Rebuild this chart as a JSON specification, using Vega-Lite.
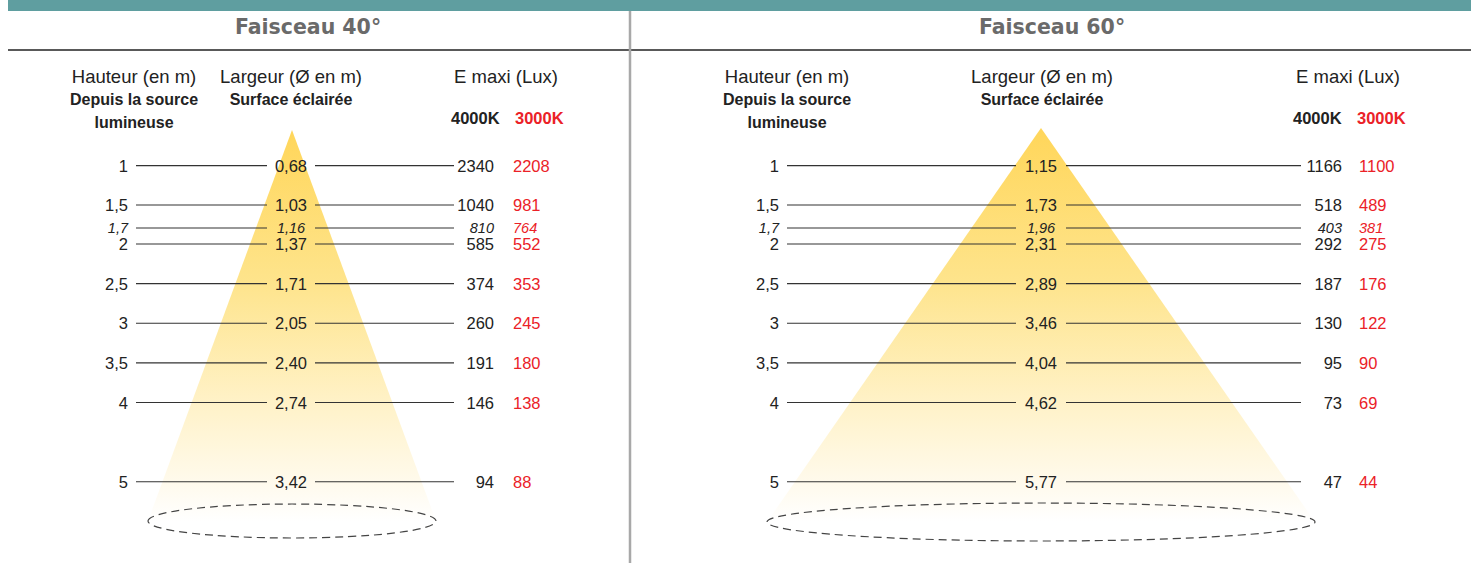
{
  "$schema": "https://vega.github.io/schema/vega-lite/v6.json",
  "width": 1471,
  "height": 563,
  "autosize": {"type": "fit", "contains": "padding"},
  "padding": 0,
  "background": "#ffffff",
  "config": {
    "view": {"stroke": null},
    "axis": {"disable": true},
    "locale": {"number": {"decimal": ",", "thousands": "\u00a0", "grouping": [3], "currency": ["", "\u00a0€"]}},
    "text": {"font": "Liberation Sans", "fontSize": 16.5, "color": "#222222"}
  },
  "datasets": {
    "rows": [
      {"beam": 40, "h": 1, "largeur": 0.68, "lux4000": 2340, "lux3000": 2208},
      {"beam": 40, "h": 1.5, "largeur": 1.03, "lux4000": 1040, "lux3000": 981},
      {"beam": 40, "h": 1.7, "largeur": 1.16, "lux4000": 810, "lux3000": 764},
      {"beam": 40, "h": 2, "largeur": 1.37, "lux4000": 585, "lux3000": 552},
      {"beam": 40, "h": 2.5, "largeur": 1.71, "lux4000": 374, "lux3000": 353},
      {"beam": 40, "h": 3, "largeur": 2.05, "lux4000": 260, "lux3000": 245},
      {"beam": 40, "h": 3.5, "largeur": 2.40, "lux4000": 191, "lux3000": 180},
      {"beam": 40, "h": 4, "largeur": 2.74, "lux4000": 146, "lux3000": 138},
      {"beam": 40, "h": 5, "largeur": 3.42, "lux4000": 94, "lux3000": 88},
      {"beam": 60, "h": 1, "largeur": 1.15, "lux4000": 1166, "lux3000": 1100},
      {"beam": 60, "h": 1.5, "largeur": 1.73, "lux4000": 518, "lux3000": 489},
      {"beam": 60, "h": 1.7, "largeur": 1.96, "lux4000": 403, "lux3000": 381},
      {"beam": 60, "h": 2, "largeur": 2.31, "lux4000": 292, "lux3000": 275},
      {"beam": 60, "h": 2.5, "largeur": 2.89, "lux4000": 187, "lux3000": 176},
      {"beam": 60, "h": 3, "largeur": 3.46, "lux4000": 130, "lux3000": 122},
      {"beam": 60, "h": 3.5, "largeur": 4.04, "lux4000": 95, "lux3000": 90},
      {"beam": 60, "h": 4, "largeur": 4.62, "lux4000": 73, "lux3000": 69},
      {"beam": 60, "h": 5, "largeur": 5.77, "lux4000": 47, "lux3000": 44}
    ]
  },
  "data": {"name": "rows"},
  "layer": [
    {"data": {"values": [{}]}, "mark": {"type": "rect", "color": "#5F9EA0"},
     "encoding": {"x": {"datum": 8, "type": "quantitative", "axis": null, "scale": {"domain": [0, 1471], "range": [0, 1471], "nice": false, "zero": false}}, "x2": {"datum": 1471},
       "y": {"datum": -1.1, "type": "quantitative", "axis": null, "scale": {"domain": [-1.1, 1.5, 1.7, 2, 6.025], "range": [0, 205, 228, 244, 563], "nice": false, "zero": false}}, "y2": {"datum": -0.9605}}},
    {"data": {"values": [{}]}, "mark": {"type": "rule", "color": "#222222", "strokeWidth": 1.5},
     "encoding": {"x": {"datum": 8, "type": "quantitative"}, "x2": {"datum": 1471}, "y": {"datum": -0.4659, "type": "quantitative"}}},
    {"data": {"values": [{}]}, "mark": {"type": "rule", "color": "#a8a8a8", "strokeWidth": 2.5},
     "encoding": {"x": {"datum": 630, "type": "quantitative"}, "y": {"datum": -0.9605, "type": "quantitative"}, "y2": {"datum": 6.025}}},

    {"data": {"values": [{}]}, "mark": {"type": "point", "shape": "M0,-1L0.7366,1L-0.7366,1Z", "filled": true, "opacity": 1, "strokeWidth": 0, "size": 152881,
      "fill": {"gradient": "linear", "x1": 0, "y1": 0, "x2": 0, "y2": 1, "stops": [{"offset": 0, "color": "#FFD65A"}, {"offset": 0.39, "color": "#FEE48C"}, {"offset": 0.7, "color": "#FFF2C8"}, {"offset": 0.9, "color": "#FFFAEC"}, {"offset": 1, "color": "#FFFFFF"}]}},
     "encoding": {"x": {"datum": 292, "type": "quantitative"}, "y": {"datum": 3.0284, "type": "quantitative"}}},
    {"data": {"values": [{}]}, "mark": {"type": "point", "shape": "M0,-0.719L1,0.719L-1,0.719Z", "filled": true, "opacity": 1, "strokeWidth": 0, "size": 300304,
      "fill": {"gradient": "linear", "x1": 0, "y1": 0, "x2": 0, "y2": 1, "stops": [{"offset": 0, "color": "#FFD65A"}, {"offset": 0.39, "color": "#FEE48C"}, {"offset": 0.7, "color": "#FFF2C8"}, {"offset": 0.9, "color": "#FFFAEC"}, {"offset": 1, "color": "#FFFFFF"}]}},
     "encoding": {"x": {"datum": 1041, "type": "quantitative"}, "y": {"datum": 3.0221, "type": "quantitative"}}},
    {"data": {"values": [{}]}, "mark": {"type": "point", "shape": "M-1,0A1,0.118,0,1,1,1,0A1,0.118,0,1,1,-1,0Z", "filled": false, "opacity": 1, "stroke": "#444444", "strokeWidth": 1.2, "strokeDash": [8, 5], "size": 82944},
     "encoding": {"x": {"datum": 292, "type": "quantitative"}, "y": {"datum": 5.4952, "type": "quantitative"}}},
    {"data": {"values": [{}]}, "mark": {"type": "point", "shape": "M-1,0A1,0.0693,0,1,1,1,0A1,0.0693,0,1,1,-1,0Z", "filled": false, "opacity": 1, "stroke": "#444444", "strokeWidth": 1.2, "strokeDash": [8, 5], "size": 300304},
     "encoding": {"x": {"datum": 1041, "type": "quantitative"}, "y": {"datum": 5.5078, "type": "quantitative"}}},

    {"transform": [{"filter": "datum.beam == 40"}], "mark": {"type": "rule", "color": "#333333", "strokeWidth": 1.1},
     "encoding": {"x": {"datum": 136, "type": "quantitative"}, "x2": {"datum": 267}, "y": {"field": "h", "type": "quantitative"}}},
    {"transform": [{"filter": "datum.beam == 40"}], "mark": {"type": "rule", "color": "#333333", "strokeWidth": 1.1},
     "encoding": {"x": {"datum": 315, "type": "quantitative"}, "x2": {"datum": 454}, "y": {"field": "h", "type": "quantitative"}}},
    {"transform": [{"filter": "datum.beam == 60"}], "mark": {"type": "rule", "color": "#333333", "strokeWidth": 1.1},
     "encoding": {"x": {"datum": 787, "type": "quantitative"}, "x2": {"datum": 1016}, "y": {"field": "h", "type": "quantitative"}}},
    {"transform": [{"filter": "datum.beam == 60"}], "mark": {"type": "rule", "color": "#333333", "strokeWidth": 1.1},
     "encoding": {"x": {"datum": 1066, "type": "quantitative"}, "x2": {"datum": 1301}, "y": {"field": "h", "type": "quantitative"}}},

    {"transform": [{"filter": "datum.beam == 40 && datum.h != 1.7"}], "mark": {"type": "text", "align": "right", "baseline": "alphabetic", "dy": 6},
     "encoding": {"x": {"datum": 128, "type": "quantitative"}, "y": {"field": "h", "type": "quantitative"}, "text": {"field": "h", "format": ".1~f"}}},
    {"transform": [{"filter": "datum.beam == 40 && datum.h == 1.7"}], "mark": {"type": "text", "align": "right", "baseline": "alphabetic", "dy": 5, "fontStyle": "italic", "fontSize": 14.5},
     "encoding": {"x": {"datum": 128, "type": "quantitative"}, "y": {"field": "h", "type": "quantitative"}, "text": {"field": "h", "format": ".1~f"}}},
    {"transform": [{"filter": "datum.beam == 40 && datum.h != 1.7"}], "mark": {"type": "text", "align": "center", "baseline": "alphabetic", "dy": 6},
     "encoding": {"x": {"datum": 291, "type": "quantitative"}, "y": {"field": "h", "type": "quantitative"}, "text": {"field": "largeur", "format": ".2f"}}},
    {"transform": [{"filter": "datum.beam == 40 && datum.h == 1.7"}], "mark": {"type": "text", "align": "center", "baseline": "alphabetic", "dy": 5, "fontStyle": "italic", "fontSize": 14.5},
     "encoding": {"x": {"datum": 291, "type": "quantitative"}, "y": {"field": "h", "type": "quantitative"}, "text": {"field": "largeur", "format": ".2f"}}},
    {"transform": [{"filter": "datum.beam == 40 && datum.h != 1.7"}], "mark": {"type": "text", "align": "right", "baseline": "alphabetic", "dy": 6},
     "encoding": {"x": {"datum": 494, "type": "quantitative"}, "y": {"field": "h", "type": "quantitative"}, "text": {"field": "lux4000", "format": "d"}}},
    {"transform": [{"filter": "datum.beam == 40 && datum.h == 1.7"}], "mark": {"type": "text", "align": "right", "baseline": "alphabetic", "dy": 5, "fontStyle": "italic", "fontSize": 14.5},
     "encoding": {"x": {"datum": 494, "type": "quantitative"}, "y": {"field": "h", "type": "quantitative"}, "text": {"field": "lux4000", "format": "d"}}},
    {"transform": [{"filter": "datum.beam == 40 && datum.h != 1.7"}], "mark": {"type": "text", "align": "left", "baseline": "alphabetic", "dy": 6, "color": "#EB2127"},
     "encoding": {"x": {"datum": 513, "type": "quantitative"}, "y": {"field": "h", "type": "quantitative"}, "text": {"field": "lux3000", "format": "d"}}},
    {"transform": [{"filter": "datum.beam == 40 && datum.h == 1.7"}], "mark": {"type": "text", "align": "left", "baseline": "alphabetic", "dy": 5, "color": "#EB2127", "fontStyle": "italic", "fontSize": 14.5},
     "encoding": {"x": {"datum": 513, "type": "quantitative"}, "y": {"field": "h", "type": "quantitative"}, "text": {"field": "lux3000", "format": "d"}}},

    {"transform": [{"filter": "datum.beam == 60 && datum.h != 1.7"}], "mark": {"type": "text", "align": "right", "baseline": "alphabetic", "dy": 6},
     "encoding": {"x": {"datum": 779, "type": "quantitative"}, "y": {"field": "h", "type": "quantitative"}, "text": {"field": "h", "format": ".1~f"}}},
    {"transform": [{"filter": "datum.beam == 60 && datum.h == 1.7"}], "mark": {"type": "text", "align": "right", "baseline": "alphabetic", "dy": 5, "fontStyle": "italic", "fontSize": 14.5},
     "encoding": {"x": {"datum": 779, "type": "quantitative"}, "y": {"field": "h", "type": "quantitative"}, "text": {"field": "h", "format": ".1~f"}}},
    {"transform": [{"filter": "datum.beam == 60 && datum.h != 1.7"}], "mark": {"type": "text", "align": "center", "baseline": "alphabetic", "dy": 6},
     "encoding": {"x": {"datum": 1041, "type": "quantitative"}, "y": {"field": "h", "type": "quantitative"}, "text": {"field": "largeur", "format": ".2f"}}},
    {"transform": [{"filter": "datum.beam == 60 && datum.h == 1.7"}], "mark": {"type": "text", "align": "center", "baseline": "alphabetic", "dy": 5, "fontStyle": "italic", "fontSize": 14.5},
     "encoding": {"x": {"datum": 1041, "type": "quantitative"}, "y": {"field": "h", "type": "quantitative"}, "text": {"field": "largeur", "format": ".2f"}}},
    {"transform": [{"filter": "datum.beam == 60 && datum.h != 1.7"}], "mark": {"type": "text", "align": "right", "baseline": "alphabetic", "dy": 6},
     "encoding": {"x": {"datum": 1342, "type": "quantitative"}, "y": {"field": "h", "type": "quantitative"}, "text": {"field": "lux4000", "format": "d"}}},
    {"transform": [{"filter": "datum.beam == 60 && datum.h == 1.7"}], "mark": {"type": "text", "align": "right", "baseline": "alphabetic", "dy": 5, "fontStyle": "italic", "fontSize": 14.5},
     "encoding": {"x": {"datum": 1342, "type": "quantitative"}, "y": {"field": "h", "type": "quantitative"}, "text": {"field": "lux4000", "format": "d"}}},
    {"transform": [{"filter": "datum.beam == 60 && datum.h != 1.7"}], "mark": {"type": "text", "align": "left", "baseline": "alphabetic", "dy": 6, "color": "#EB2127"},
     "encoding": {"x": {"datum": 1359, "type": "quantitative"}, "y": {"field": "h", "type": "quantitative"}, "text": {"field": "lux3000", "format": "d"}}},
    {"transform": [{"filter": "datum.beam == 60 && datum.h == 1.7"}], "mark": {"type": "text", "align": "left", "baseline": "alphabetic", "dy": 5, "color": "#EB2127", "fontStyle": "italic", "fontSize": 14.5},
     "encoding": {"x": {"datum": 1359, "type": "quantitative"}, "y": {"field": "h", "type": "quantitative"}, "text": {"field": "lux3000", "format": "d"}}},

    {"data": {"values": [{}]}, "mark": {"type": "text", "text": "Faisceau 40°", "font": "DejaVu Sans", "fontWeight": "bold", "fontSize": 20.5, "color": "#6a6a6a", "align": "center", "baseline": "alphabetic"},
     "encoding": {"x": {"datum": 308, "type": "quantitative"}, "y": {"datum": -0.669, "type": "quantitative"}}},
    {"data": {"values": [{}]}, "mark": {"type": "text", "text": "Faisceau 60°", "font": "DejaVu Sans", "fontWeight": "bold", "fontSize": 20.5, "color": "#6a6a6a", "align": "center", "baseline": "alphabetic"},
     "encoding": {"x": {"datum": 1052, "type": "quantitative"}, "y": {"datum": -0.669, "type": "quantitative"}}},

    {"data": {"values": [{}]}, "mark": {"type": "text", "text": "Hauteur (en m)", "fontSize": 18.5, "align": "center", "baseline": "alphabetic"},
     "encoding": {"x": {"datum": 134, "type": "quantitative"}, "y": {"datum": -0.0473, "type": "quantitative"}}},
    {"data": {"values": [{}]}, "mark": {"type": "text", "text": ["Depuis la source", "lumineuse"], "fontSize": 16, "fontWeight": "bold", "lineHeight": 23, "align": "center", "baseline": "alphabetic"},
     "encoding": {"x": {"datum": 134, "type": "quantitative"}, "y": {"datum": 0.2317, "type": "quantitative"}}},
    {"data": {"values": [{}]}, "mark": {"type": "text", "text": "Largeur (Ø en m)", "fontSize": 18.5, "align": "center", "baseline": "alphabetic"},
     "encoding": {"x": {"datum": 291, "type": "quantitative"}, "y": {"datum": -0.0473, "type": "quantitative"}}},
    {"data": {"values": [{}]}, "mark": {"type": "text", "text": "Surface éclairée", "fontSize": 16, "fontWeight": "bold", "align": "center", "baseline": "alphabetic"},
     "encoding": {"x": {"datum": 291, "type": "quantitative"}, "y": {"datum": 0.2317, "type": "quantitative"}}},
    {"data": {"values": [{}]}, "mark": {"type": "text", "text": "E maxi (Lux)", "fontSize": 18.5, "align": "center", "baseline": "alphabetic"},
     "encoding": {"x": {"datum": 506, "type": "quantitative"}, "y": {"datum": -0.0473, "type": "quantitative"}}},
    {"data": {"values": [{}]}, "mark": {"type": "text", "text": "4000K", "fontSize": 16.5, "fontWeight": "bold", "align": "left", "baseline": "alphabetic"},
     "encoding": {"x": {"datum": 451, "type": "quantitative"}, "y": {"datum": 0.4727, "type": "quantitative"}}},
    {"data": {"values": [{}]}, "mark": {"type": "text", "text": "3000K", "fontSize": 16.5, "fontWeight": "bold", "color": "#EB2127", "align": "left", "baseline": "alphabetic"},
     "encoding": {"x": {"datum": 515, "type": "quantitative"}, "y": {"datum": 0.4727, "type": "quantitative"}}},

    {"data": {"values": [{}]}, "mark": {"type": "text", "text": "Hauteur (en m)", "fontSize": 18.5, "align": "center", "baseline": "alphabetic"},
     "encoding": {"x": {"datum": 787, "type": "quantitative"}, "y": {"datum": -0.0473, "type": "quantitative"}}},
    {"data": {"values": [{}]}, "mark": {"type": "text", "text": ["Depuis la source", "lumineuse"], "fontSize": 16, "fontWeight": "bold", "lineHeight": 23, "align": "center", "baseline": "alphabetic"},
     "encoding": {"x": {"datum": 787, "type": "quantitative"}, "y": {"datum": 0.2317, "type": "quantitative"}}},
    {"data": {"values": [{}]}, "mark": {"type": "text", "text": "Largeur (Ø en m)", "fontSize": 18.5, "align": "center", "baseline": "alphabetic"},
     "encoding": {"x": {"datum": 1042, "type": "quantitative"}, "y": {"datum": -0.0473, "type": "quantitative"}}},
    {"data": {"values": [{}]}, "mark": {"type": "text", "text": "Surface éclairée", "fontSize": 16, "fontWeight": "bold", "align": "center", "baseline": "alphabetic"},
     "encoding": {"x": {"datum": 1042, "type": "quantitative"}, "y": {"datum": 0.2317, "type": "quantitative"}}},
    {"data": {"values": [{}]}, "mark": {"type": "text", "text": "E maxi (Lux)", "fontSize": 18.5, "align": "center", "baseline": "alphabetic"},
     "encoding": {"x": {"datum": 1348, "type": "quantitative"}, "y": {"datum": -0.0473, "type": "quantitative"}}},
    {"data": {"values": [{}]}, "mark": {"type": "text", "text": "4000K", "fontSize": 16.5, "fontWeight": "bold", "align": "left", "baseline": "alphabetic"},
     "encoding": {"x": {"datum": 1293, "type": "quantitative"}, "y": {"datum": 0.4727, "type": "quantitative"}}},
    {"data": {"values": [{}]}, "mark": {"type": "text", "text": "3000K", "fontSize": 16.5, "fontWeight": "bold", "color": "#EB2127", "align": "left", "baseline": "alphabetic"},
     "encoding": {"x": {"datum": 1357, "type": "quantitative"}, "y": {"datum": 0.4727, "type": "quantitative"}}}
  ]
}
